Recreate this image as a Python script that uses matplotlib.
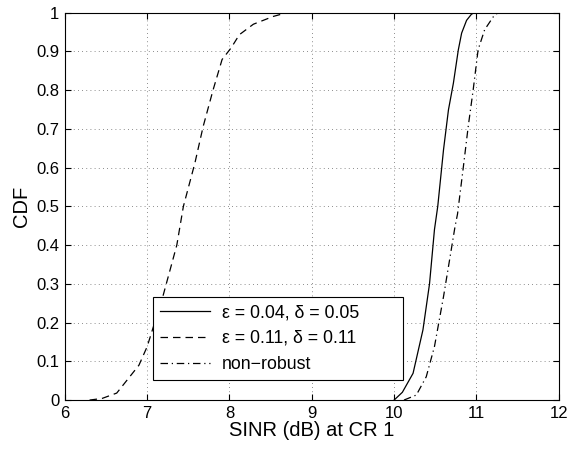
import matplotlib
matplotlib.use('Agg')
import matplotlib.pyplot as plt
import numpy as np

plt.rcParams['font.family'] = ['Liberation Sans', 'DejaVu Sans']

# values
robust1_x = [10.0, 10.1, 10.23, 10.35, 10.43, 10.49, 10.53, 10.60, 10.66, 10.72, 10.78, 10.82, 10.88, 10.94, 10.98]
robust1_y = [0.0, 0.02, 0.069, 0.181, 0.30, 0.44, 0.50, 0.646, 0.749, 0.818, 0.904, 0.947, 0.98, 0.996, 1.0]

robust2_x = [6.3, 6.45, 6.63, 6.90, 7.0, 7.19, 7.36, 7.44, 7.58, 7.68, 7.80, 7.91, 8.02, 8.12, 8.29, 8.53, 8.7]
robust2_y = [0.0, 0.004, 0.018, 0.09, 0.138, 0.267, 0.40, 0.50, 0.612, 0.706, 0.80, 0.879, 0.909, 0.943, 0.97, 0.99, 1.0]

nonrob_x = [10.12, 10.27, 10.39, 10.49, 10.60, 10.68, 10.74, 10.77, 10.84, 10.90, 10.96, 11.02, 11.10, 11.22, 11.27]
nonrob_y = [0.0, 0.013, 0.06, 0.138, 0.267, 0.37, 0.448, 0.48, 0.60, 0.706, 0.80, 0.904, 0.956, 0.994, 1.0]

labels = ['\u03b5 = 0.04, \u03b4 = 0.05', '\u03b5 = 0.11, \u03b4 = 0.11', 'non\u2212robust']

fig = plt.figure(figsize=(5.69, 4.5), dpi=100)
ax = fig.add_axes([0.114, 0.111, 0.868, 0.861])

ax.plot(robust1_x, robust1_y, color='black', lw=0.9, ls='-', label=labels[0])
ax.plot(robust2_x, robust2_y, color='black', lw=0.9, ls=(0, (6, 4)), label=labels[1])
ax.plot(nonrob_x, nonrob_y, color='black', lw=0.9, ls=(0, (6, 3, 1, 3)), label=labels[2])

ax.set_xlim(6, 12)
ax.set_ylim(0, 1)
ax.set_xticks(np.arange(6, 13, 1))
ax.set_yticks(np.arange(0, 1.01, 0.1))
ax.set_yticklabels(['0', '0.1', '0.2', '0.3', '0.4', '0.5', '0.6', '0.7', '0.8', '0.9', '1'])
ax.tick_params(direction='in', top=True, right=True, labelsize=12, length=4, pad=4)
ax.grid(True, ls=(0, (1, 4)), color='black', lw=0.6, alpha=0.6)
for s in ax.spines.values():
    s.set_linewidth(0.8)

ax.set_xlabel('SINR (dB) at CR 1', fontsize=14.5, labelpad=0)
ax.set_ylabel('CDF', fontsize=14.5, labelpad=4)

leg = ax.legend(loc='lower left', bbox_to_anchor=(0.178, 0.052, 0.506, 0.214), mode='expand',
                fontsize=12.8, fancybox=False, framealpha=1, edgecolor='black',
                handlelength=2.8, handletextpad=0.7, borderpad=0.4, labelspacing=0.5,
                borderaxespad=0)
leg.get_frame().set_linewidth(0.8)

fig.savefig('out.png', dpi=100)
